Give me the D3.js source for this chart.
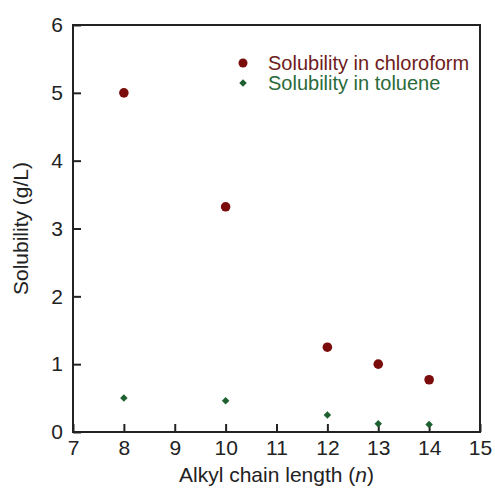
<!DOCTYPE html>
<html>
<head>
<meta charset="UTF-8">
<script src="https://cdn.jsdelivr.net/npm/d3@7"></script>
<style>
  body { margin: 0; background: #fff; }
  svg { font-family: "Liberation Sans", Arial, sans-serif; }
</style>
</head>
<body>
<div id="chart"></div>
<script>
const chainLength = [8, 10, 12, 13, 14];
const chloroform = [5.0, 3.32, 1.25, 1.0, 0.77];
const toluene = [0.5, 0.46, 0.25, 0.12, 0.11];
const xTicks = [7, 8, 9, 10, 11, 12, 13, 14, 15];
const yTicks = [0, 1, 2, 3, 4, 5, 6];

const width = 495, height = 489;
const margin = {top: 25, right: 15, bottom: 57, left: 73};

const svg = d3.select("#chart").append("svg")
    .attr("width", width)
    .attr("height", height);

const x = d3.scaleLinear().domain([7, 15]).range([margin.left, width - margin.right]);
const y = d3.scaleLinear().domain([0, 6]).range([height - margin.bottom, margin.top]);

const axisColor = "#222";

// frame
svg.append("rect")
    .attr("x", x(7)).attr("y", y(6))
    .attr("width", x(15) - x(7)).attr("height", y(0) - y(6))
    .attr("fill", "none").attr("stroke", axisColor).attr("stroke-width", 2);

// ticks, pointing inward
const xAxis = svg.append("g")
    .attr("transform", `translate(0,${y(0)})`)
    .call(d3.axisBottom(x).tickValues(xTicks).tickFormat(d3.format("d"))
        .tickSizeInner(-8).tickSizeOuter(0).tickPadding(8));
const yAxis = svg.append("g")
    .attr("transform", `translate(${x(7)},0)`)
    .call(d3.axisLeft(y).tickValues(yTicks).tickFormat(d3.format("d"))
        .tickSizeInner(-8).tickSizeOuter(0).tickPadding(10));

[xAxis, yAxis].forEach(g => {
    g.select(".domain").remove();
    g.selectAll("line").attr("stroke", axisColor).attr("stroke-width", 2);
    g.selectAll("text").attr("fill", "#222").style("font-size", "21px")
        .style("font-family", "'Liberation Sans', Arial, sans-serif");
});
xAxis.selectAll("text").attr("dy", "0.71em");

// axis titles
const title = svg.append("text")
    .attr("x", (x(7) + x(15)) / 2).attr("y", 482)
    .attr("text-anchor", "middle")
    .attr("fill", "#222").style("font-size", "21px");
title.append("tspan").text("Alkyl chain length (");
title.append("tspan").attr("font-style", "italic").text("n");
title.append("tspan").text(")");

svg.append("text")
    .attr("transform", `translate(28,${(y(0) + y(6)) / 2}) rotate(-90)`)
    .attr("text-anchor", "middle")
    .attr("fill", "#222").style("font-size", "21px")
    .text("Solubility (g/L)");

const red = "#7b0c0c";
const green = "#1d6130";

// chloroform points
svg.append("g").selectAll("circle")
    .data(chainLength.map((n, i) => [n, chloroform[i]]))
    .join("circle")
    .attr("cx", d => x(d[0])).attr("cy", d => y(d[1]))
    .attr("r", 4.8).attr("fill", red);

// toluene points (square diamonds)
const diamond = d3.symbol().type(d3.symbolSquare).size(28);
svg.append("g").selectAll("path")
    .data(chainLength.map((n, i) => [n, toluene[i]]))
    .join("path")
    .attr("d", diamond)
    .attr("transform", d => `translate(${x(d[0])},${y(d[1])}) rotate(45)`)
    .attr("fill", green);

// legend
const legend = svg.append("g").style("font-size", "20px");
legend.append("circle").attr("cx", 243).attr("cy", 63).attr("r", 4.5).attr("fill", red);
legend.append("text").attr("x", 268).attr("y", 70).attr("fill", "#6e1c1c").text("Solubility in chloroform");
legend.append("path").attr("d", diamond).attr("transform", "translate(243,83) rotate(45)").attr("fill", green);
legend.append("text").attr("x", 268).attr("y", 90).attr("fill", "#2a6a3a").text("Solubility in toluene");
</script>
</body>
</html>
